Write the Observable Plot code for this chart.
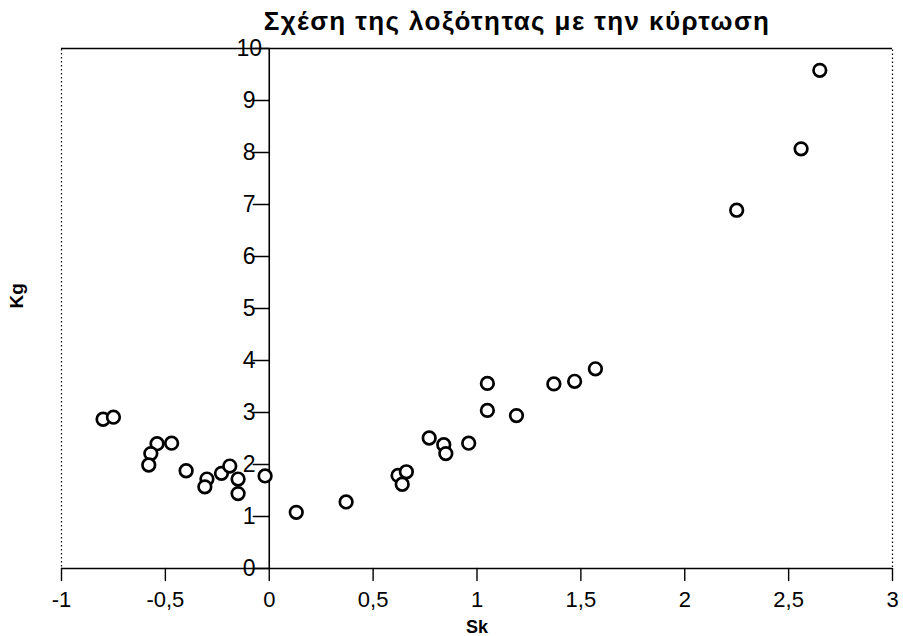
<!DOCTYPE html>
<html>
<head>
<meta charset="utf-8">
<script src="https://cdn.jsdelivr.net/npm/d3@7"></script>
<script src="https://cdn.jsdelivr.net/npm/@observablehq/plot@0.6"></script>
<style>
  html, body { margin: 0; padding: 0; background: #fff; }
  #title { height: 28px; width: 903px; position: relative; font-family: "Liberation Sans", Arial, sans-serif; }
  #title span { position: absolute; left: 517px; top: 6px; transform: translateX(-50%); font-size: 26px; letter-spacing: 1.4px; font-weight: bold; white-space: nowrap; }
</style>
</head>
<body>
<div id="title"><span>Σχέση της λοξότητας με την κύρτωση</span></div>
<div id="chart"></div>
<script>
const titleText = "Σχέση της λοξότητας με την κύρτωση";
const xTitle = "Sk";
const yTitle = "Kg";
const xTicks = [-1, -0.5, 0, 0.5, 1, 1.5, 2, 2.5, 3];
const yTicks = [0, 1, 2, 3, 4, 5, 6, 7, 8, 9, 10];
const sk = [-0.80, -0.75, -0.54, -0.47, -0.57, -0.58, -0.40, -0.30, -0.31, -0.23, -0.19, -0.15, -0.15, -0.02,
            0.13, 0.37, 0.62, 0.66, 0.64, 0.77, 0.84, 0.85, 0.96, 1.05, 1.05, 1.19, 1.37, 1.47, 1.57,
            2.25, 2.56, 2.65];
const kg = [2.87, 2.91, 2.40, 2.41, 2.21, 1.99, 1.88, 1.72, 1.57, 1.83, 1.97, 1.72, 1.44, 1.78,
            1.08, 1.28, 1.79, 1.86, 1.62, 2.51, 2.38, 2.21, 2.41, 3.04, 3.56, 2.94, 3.55, 3.60, 3.84,
            6.89, 8.07, 9.58];
const points = sk.map((s, i) => ({sk: s, kg: kg[i]}));
const fmt = d => String(d).replace(".", ",");
const tickShape = {draw(ctx, l) { ctx.moveTo(0, -l / 2); ctx.lineTo(0, l / 2); }};

const font = "Liberation Sans, Arial, sans-serif";
const chart = Plot.plot({
  width: 903,
  height: 608,
  marginTop: 20,
  marginBottom: 68,
  marginLeft: 61,
  marginRight: 11,
  style: {fontFamily: font, fontSize: "20px", background: "#fff", color: "#000"},
  x: {domain: [-1, 3], axis: null},
  y: {domain: [0, 10], axis: null},
  marks: [
    Plot.frame({stroke: "#000", strokeDasharray: "1.5,2.5", strokeWidth: 1.2}),
    Plot.ruleY([10], {stroke: "#000", strokeWidth: 1.5}),
    Plot.ruleY([0], {stroke: "#000", strokeWidth: 1.6}),
    Plot.ruleX([0], {stroke: "#000", strokeWidth: 1.6}),
    Plot.vector(xTicks, {x: d => d, y: 0, rotate: 0, length: 12, anchor: "middle", stroke: "#000", strokeWidth: 1.4, shape: tickShape}),
    Plot.vector(yTicks, {x: 0, y: d => d, rotate: 90, length: 16, anchor: "middle", stroke: "#000", strokeWidth: 1.4, shape: tickShape}),
    Plot.text(xTicks, {x: d => d, y: 0, text: d => fmt(d), dy: 31, fontSize: 22}),
    Plot.text(yTicks, {x: 0, y: d => d, text: d => fmt(d), dx: -20, fontSize: 23}),
    Plot.dot(points, {x: "sk", y: "kg", r: 6.3, stroke: "#000", strokeWidth: 2.7, fill: "#fff"}),
    Plot.text([xTitle], {frameAnchor: "bottom", lineAnchor: "middle", x: 1, dy: 59, text: d => d, fontWeight: "bold", fontSize: 18}),
    Plot.text([yTitle], {frameAnchor: "left", dx: -45, rotate: -90, text: d => d, fontWeight: "bold", fontSize: 19})
  ]
});
document.getElementById("chart").appendChild(chart);
</script>
</body>
</html>
